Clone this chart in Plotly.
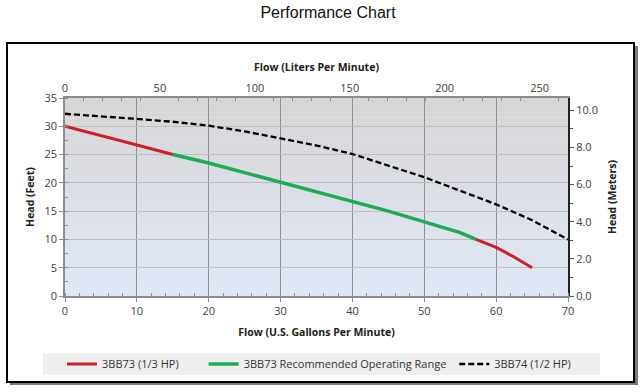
import plotly.graph_objects as go

# ---- data ----
gpm_3bb73_start = [0, 5, 10, 15]
ft_3bb73_start = [30.0, 28.4, 26.7, 25.0]

gpm_range = [15, 20, 25, 30, 35, 40, 45, 50, 55, 57.2]
ft_range = [25.0, 23.5, 21.8, 20.1, 18.4, 16.8, 15.0, 13.1, 11.2, 10.0]

gpm_3bb73_end = [57.2, 60, 62.5, 65]
ft_3bb73_end = [10.0, 8.6, 6.9, 5.0]

gpm_3bb74 = [0, 5, 10, 15, 20, 25, 30, 35, 40, 45, 50, 55, 60, 65, 70]
ft_3bb74 = [32.2, 31.8, 31.3, 30.8, 30.1, 29.1, 27.9, 26.6, 25.1, 23.1, 21.0, 18.6, 16.2, 13.4, 10.0]

GAL_TO_L = 3.78541
FT_TO_M = 0.3048
x_max_gpm = 70
y_max_ft = 35

names = ["3BB73 (1/3 HP)", "3BB73 Recommended Operating Range", "3BB74 (1/2 HP)"]
colors = ["#cc1f2b", "#1faa55", "#000000"]

# ---- layout helpers (pixel -> paper) ----
L, R, T, B = 65, 72, 98, 96
W, H = 640, 392
PW, PH = W - L - R, H - T - B
def px(x):
    return (x - L) / PW
def py(y):
    return (H - B - y) / PH

fig = go.Figure()

fig.add_trace(go.Scatter(x=gpm_3bb73_start, y=ft_3bb73_start, mode="lines",
                         line=dict(color=colors[0], width=3),
                         name=names[0] + "\u00a0" * 7, legendgroup="a"))
fig.add_trace(go.Scatter(x=gpm_range, y=ft_range, mode="lines",
                         line=dict(color=colors[1], width=3.5), name=names[1] + "\u00a0"))
fig.add_trace(go.Scatter(x=gpm_3bb73_end, y=ft_3bb73_end, mode="lines",
                         line=dict(color=colors[0], width=3), name=names[0],
                         legendgroup="a", showlegend=False))
fig.add_trace(go.Scatter(x=gpm_3bb74, y=ft_3bb74, mode="lines",
                         line=dict(color=colors[2], width=2.3, dash="6px,3px"), name=names[2]))
# carrier trace for secondary axes
fig.add_trace(go.Scatter(x=[None], y=[None], xaxis="x2", yaxis="y2",
                         showlegend=False, hoverinfo="skip"))

shapes = []
# outer frame with shadow
shapes.append(dict(type="rect", xref="paper", yref="paper", layer="below",
                   x0=px(10), x1=px(638), y0=py(385), y1=py(46),
                   fillcolor="#7a7a7a", line=dict(width=0)))
shapes.append(dict(type="rect", xref="paper", yref="paper", layer="below",
                   x0=px(7), x1=px(634), y0=py(382), y1=py(43),
                   fillcolor="white", line=dict(color="black", width=2)))
# legend band
shapes.append(dict(type="rect", xref="paper", yref="paper", layer="below",
                   x0=px(43), x1=px(600), y0=py(375), y1=py(353),
                   fillcolor="#efefef", line=dict(width=0)))
# plot-area gradient (gray top -> pale blue bottom)
n = 40
top_c = (214, 214, 214)
bot_c = (224, 231, 245)
for i in range(n):
    f = i / (n - 1)
    c = tuple(round(bot_c[k] + (top_c[k] - bot_c[k]) * f) for k in range(3))
    shapes.append(dict(type="rect", xref="x domain", yref="y domain", layer="below",
                       x0=0, x1=1, y0=i / n, y1=(i + 1) / n + 0.002,
                       fillcolor="rgb(%d,%d,%d)" % c, line=dict(width=0)))

tickfont = dict(family="Open Sans, Liberation Sans, sans-serif", size=11, color="#404040")
titlefont = dict(family="Open Sans, Liberation Sans, sans-serif", size=10.5, color="#202020", weight="bold")

fig.update_layout(
    width=W, height=H,
    margin=dict(l=L, r=R, t=T, b=B, autoexpand=False),
    paper_bgcolor="white",
    plot_bgcolor="rgba(0,0,0,0)",
    shapes=shapes,
    title=dict(text="Performance Chart", x=px(328), xanchor="center", xref="paper",
               y=1 - 12 / H, yanchor="middle", automargin=False,
               font=dict(family="Liberation Sans, Arial, sans-serif", size=16, color="#111")),
    xaxis=dict(range=[0, x_max_gpm], dtick=10, showgrid=True, gridcolor="#8f8f8f", gridwidth=1,
               zeroline=False, showline=True, linecolor="#8c8c8c", linewidth=1.5,
               ticks="outside", ticklen=4, tickcolor="#8c8c8c", automargin=False,
               minor=dict(dtick=2, ticks="inside", ticklen=3, tickcolor="#8c8c8c", showgrid=False),
               tickfont=tickfont,
               title=dict(text="Flow (U.S. Gallons Per Minute)", font=titlefont, standoff=12)),
    yaxis=dict(range=[0, y_max_ft], dtick=5, showgrid=True, gridcolor="#bdbdbd", gridwidth=1,
               zeroline=False, showline=True, linecolor="#8c8c8c", linewidth=1.5,
               ticks="outside", ticklen=4, tickcolor="#8c8c8c", automargin=False,
               minor=dict(dtick=2.5, ticks="inside", ticklen=3, tickcolor="#8c8c8c", showgrid=False),
               tickfont=tickfont,
               title=dict(text="Head (Feet)", font=titlefont, standoff=8)),
    xaxis2=dict(range=[0, x_max_gpm * GAL_TO_L], dtick=50, overlaying="x", side="top",
                showgrid=False, zeroline=False, showline=True, linecolor="#8c8c8c", linewidth=1.5,
                ticks="", automargin=False,
                minor=dict(dtick=10, ticks="inside", ticklen=3, tickcolor="#8c8c8c"),
                tickfont=tickfont,
                title=dict(text="Flow (Liters Per Minute)", font=titlefont, standoff=6)),
    yaxis2=dict(range=[0, y_max_ft * FT_TO_M], dtick=2, tickformat=".1f", overlaying="y",
                side="right", anchor="x2", automargin=False,
                showgrid=False, zeroline=False, showline=True, linecolor="#222222", linewidth=2,
                ticks="outside", ticklen=4, tickcolor="#555555",
                minor=dict(dtick=1, ticks="outside", ticklen=3, tickcolor="#555555"),
                tickfont=tickfont,
                title=dict(text="Head (Meters)", font=titlefont, standoff=12)),
    legend=dict(orientation="h", x=px(62), xanchor="left", y=py(364), yanchor="middle",
                bgcolor="rgba(0,0,0,0)", font=dict(family="Open Sans, Liberation Sans, sans-serif",
                                                   size=11, color="#333"),
                itemwidth=30, tracegroupgap=0),
    showlegend=True,
)

fig.write_html("out.html", config={"displayModeBar": False},
               post_script="document.body.style.margin='0';document.body.style.padding='0';")
